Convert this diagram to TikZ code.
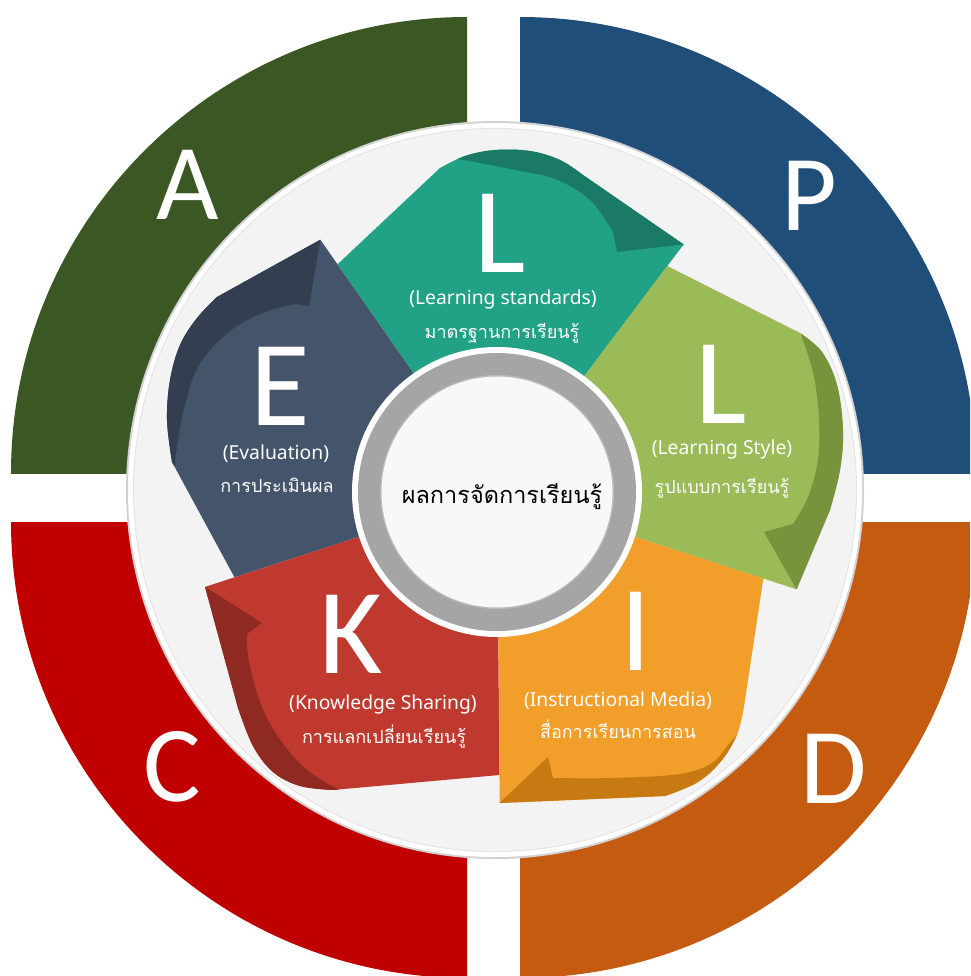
\documentclass[tikz,border=0pt]{standalone}
\usepackage{fontspec}
\setmainfont{Carlito}
\newfontfamily\thaifont[Script=Thai]{Loma}
\newfontfamily\labfont{Noto Sans}
\definecolor{qA}{HTML}{3B5724}
\definecolor{qP}{HTML}{1F4E79}
\definecolor{qC}{HTML}{C00000}
\definecolor{qD}{HTML}{C55A11}
\definecolor{tealM}{HTML}{21A185}
\definecolor{tealD}{HTML}{1A7A65}
\definecolor{navyM}{HTML}{44546A}
\definecolor{navyD}{HTML}{333F50}
\definecolor{lgrM}{HTML}{9BBB59}
\definecolor{lgrD}{HTML}{77933C}
\definecolor{orM}{HTML}{F19E2A}
\definecolor{orD}{HTML}{C77A12}
\definecolor{rdM}{HTML}{C0392F}
\definecolor{rdD}{HTML}{8F2A23}
\definecolor{ringG}{HTML}{A5A5A5}
\definecolor{discF}{HTML}{F3F3F3}
\begin{document}
\begin{tikzpicture}[x=1pt,y=-1pt,
  bigletter/.style={text=white,inner sep=0,anchor=base,font=\fontsize{108}{108}\selectfont},
  segletter/.style={text=white,inner sep=0,anchor=base,font=\fontsize{122}{122}\selectfont},
  englab/.style={text=white,inner sep=0,anchor=base,font=\labfont\fontsize{19.3}{21}\selectfont},
  thailab/.style={text=white,inner sep=0,anchor=base,font=\thaifont\fontsize{18}{20}\selectfont},
  centerlab/.style={text=black,inner sep=0,anchor=base,font=\thaifont\fontsize{23.5}{26}\selectfont}]
\useasboundingbox (0,0) rectangle (970,976);
\clip (0,0) rectangle (970,976);
\fill[white] (0,0) rectangle (970,976);
% outer quadrants
\begin{scope}\clip (0,0) rectangle (467,473); \fill[qA] (467,473) circle (456); \end{scope}
\begin{scope}\clip (520,0) rectangle (970,473); \fill[qP] (520,473) circle (456); \end{scope}
\begin{scope}\clip (0,522) rectangle (467,976); \fill[qC] (467,522) circle (456); \end{scope}
\begin{scope}\clip (520,522) rectangle (970,976); \fill[qD] (520,522) circle (456); \end{scope}
% white disc
\fill[gray!35] (495,490) circle (369);
\fill[white] (495,490) circle (367);
\fill[gray!22] (495,490) circle (362);
\fill[discF] (495,490) circle (361);
% NAVY segment (E)
\def\navypath{(392.4,526.0) -- (234.5,577.3) -- (172,462) -- plot[smooth,tension=.6] coordinates {(172,462) (167,420) (170,380) (180,345) (197,318) (217,297)} -- (320.3,239.7) -- (337.5,264.3) -- (433.9,401.9) -- cycle}
\fill[navyM] \navypath;
\begin{scope}
\clip \navypath;
\fill[navyD] (172,490) -- plot[smooth,tension=.6] coordinates {(174,470) (178,440) (185,405) (199,365) (230,331) (265,312) (295,304)} -- (309,306) -- (323,225) -- (250,200) -- (120,300) -- (120,490) -- cycle;
\end{scope}
% RED segment (K)
\def\redpath{(498,602) -- (499.5,775) -- (333,790) -- plot[smooth,tension=.6] coordinates {(333,790) (300,786) (273,772) (253,746) (238,708)} -- (205,586.9) -- (392.4,526) -- cycle}
\fill[rdM] \redpath;
\begin{scope}
\clip \redpath;
\fill[rdD] (350,800) -- plot[smooth,tension=.6] coordinates {(345,792) (318,778) (291,754) (264,712) (249,662) (247,634)} -- (262,623) -- (195,580.6) -- (180,580) -- (180,810) -- (350,810) -- cycle;
\end{scope}
% TEAL segment (L)
\def\tealpath{(433.9,401.9) -- (337.5,264.3) -- (440,168) -- plot[smooth,tension=.6] coordinates {(440,168) (465,156) (495,150) (530,151) (560,160) (583,175)} -- (683.6,244.4) -- (667.3,266.0) -- (563.2,404.2) -- (497,430) -- cycle}
\fill[tealM] \tealpath;
\begin{scope}
\clip \tealpath;
\fill[tealD] (450,150) -- plot[smooth,tension=.6] coordinates {(452,158) (480,163) (515,170) (555,179) (590,200) (613,232)} -- (617,252) -- (700,242.5) -- (720,150) -- (600,100) -- (450,100) -- cycle;
\end{scope}
% GREEN segment (L)
\def\greenpath{(563.2,404.2) -- (667.3,266) -- (800,333) -- plot[smooth,tension=.6] coordinates {(800,333) (822,352) (837,385) (843,430) (840,470) (830,510)} -- (796.6,589.3) -- (601.6,526) -- cycle}
\fill[lgrM] \greenpath;
\begin{scope}
\clip \greenpath;
\fill[lgrD] (800,330) -- plot[smooth,tension=.6] coordinates {(802,338) (808,355) (815,382) (819,420) (818,460) (808,497) (793,524)} -- (764,532) -- (802,599) -- (880,600) -- (880,320) -- cycle;
\end{scope}
% ORANGE segment (I)
\def\orangepath{(601.6,526) -- (763.3,578.5) -- (745,700) -- plot[smooth,tension=.6] coordinates {(745,700) (738,732) (722,760) (698,782) (665,796)} -- (499.7,803) -- (498,602) -- cycle}
\fill[orM] \orangepath;
\begin{scope}
\clip \orangepath;
\fill[orD] (750,728) -- plot[smooth,tension=.6] coordinates {(741,730) (728,745) (712,763) (680,774) (613,778) (553,778)} -- (548,757) -- (490,812) -- (490,830) -- (770,830) -- (770,728) -- cycle;
\end{scope}
% central ring
\fill[white] (497,492) circle (145);
\fill[ringG] (497,492) circle (139);
\fill[gray!55] (497,492) circle (117);
\fill[discF!60!white] (497,492) circle (115.5);
% outer letters
\node[bigletter] (lA) at (188,220) {A};
\node[bigletter] (lP) at (809,230) {P};
\node[bigletter] (lC) at (172,801) {C};
\node[bigletter] (lD) at (834,803) {D};
% segment letters and labels
\node[segletter] (sL1) at (500,272) {L};
\node[englab] (eL1) at (503,304) {(Learning standards)};
\node[thailab] (tL1) at (502,338) {มาตรฐานการเรียนรู้};
\node[segletter] (sL2) at (721,423) {L};
\node[englab] (eL2) at (722,454) {(Learning Style)};
\node[thailab] (tL2) at (722,493) {รูปแบบการเรียนรู้};
\node[segletter] (sI) at (636,670) {I};
\node[englab] (eI) at (618,706) {(Instructional Media)};
\node[thailab] (tI) at (618,738) {สื่อการเรียนการสอน};
\node[segletter] (sK) at (351,673) {K};
\node[englab] (eK) at (383,709) {(Knowledge Sharing)};
\node[thailab] (tK) at (384,743) {การแลกเปลี่ยนเรียนรู้};
\node[segletter] (sE) at (280,425) {E};
\node[englab] (eE) at (276,459) {(Evaluation)};
\node[thailab] (tE) at (277,492) {การประเมินผล};
\node[centerlab] (ctr) at (502,503) {ผลการจัดการเรียนรู้};
\end{tikzpicture}
\end{document}
